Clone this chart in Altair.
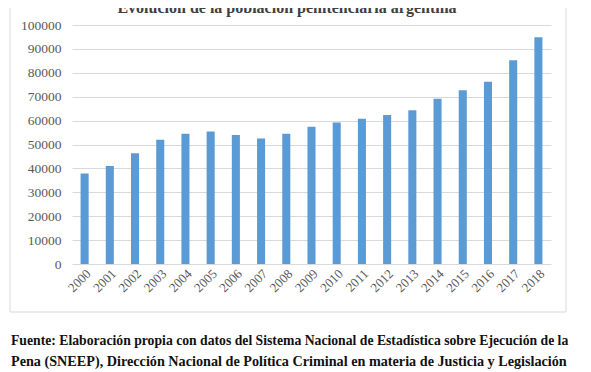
import altair as alt
import pandas as pd

years = [str(y) for y in range(2000, 2019)]
values = [37900, 41000, 46300, 52000, 54500, 55400, 54000, 52500, 54500,
          57400, 59200, 60800, 62300, 64300, 69100, 72700, 76300, 85300, 94900]
y_ticks = [0, 10000, 20000, 30000, 40000, 50000, 60000, 70000, 80000, 90000, 100000]
title_text = "Evolución de la población penitenciaria argentina"
footer_line1 = "Fuente: Elaboración propia con datos del Sistema Nacional de Estadística sobre Ejecución de la"
footer_line2 = "Pena (SNEEP), Dirección Nacional de Política Criminal en materia de Justicia y Legislación"

df = pd.DataFrame({"year": years, "value": values})

W, H = 479, 239
SERIF = "Liberation Serif"

bars = alt.Chart(df).mark_bar(color="#5b9bd5").encode(
    x=alt.X("year:N", sort=years,
            scale=alt.Scale(paddingInner=0.68, paddingOuter=0.34),
            axis=alt.Axis(title=None, labelAngle=-45, labelFont=SERIF, labelFontSize=13,
                          labelColor="#595959", ticks=False, domain=False, labelPadding=3,
                          grid=False)),
    y=alt.Y("value:Q", scale=alt.Scale(domain=[0, 100000], nice=False),
            axis=alt.Axis(title=None, values=y_ticks, labelFont=SERIF, labelFontSize=13.5,
                          labelColor="#595959", ticks=False, domain=False, labelPadding=11,
                          gridColor="#d9d9d9", gridWidth=1, format="d")),
)

frame = alt.Chart(pd.DataFrame({"a": [0]})).mark_rect(
    fill=None, stroke="#d9d9d9", strokeWidth=1, clip=False
).encode(
    x=alt.value(-62), x2=alt.value(494), y=alt.value(-40), y2=alt.value(287)
)

title = alt.Chart(pd.DataFrame({"t": [title_text]})).mark_text(
    font=SERIF, fontSize=16, fontWeight="bold", color="#404040",
    align="center", baseline="alphabetic"
).encode(text="t:N", x=alt.value(215), y=alt.value(-12))

foot1 = alt.Chart(pd.DataFrame({"t": [footer_line1]})).mark_text(
    font=SERIF, fontSize=13.7, fontWeight="bold", color="#111111",
    align="left", baseline="alphabetic"
).encode(text="t:N", x=alt.value(-61), y=alt.value(320))

foot2 = alt.Chart(pd.DataFrame({"t": [footer_line2]})).mark_text(
    font=SERIF, fontSize=14.2, fontWeight="bold", color="#111111",
    align="left", baseline="alphabetic"
).encode(text="t:N", x=alt.value(-61), y=alt.value(341))

chart = alt.layer(frame, bars, title, foot1, foot2).properties(
    width=W, height=H,
    autosize=alt.AutoSizeParams(type="none"),
    padding={"left": 64, "top": 17, "right": 30, "bottom": 105},
).configure_view(stroke=None)

chart.save("out.html", embed_options={"renderer": "svg", "actions": False})
